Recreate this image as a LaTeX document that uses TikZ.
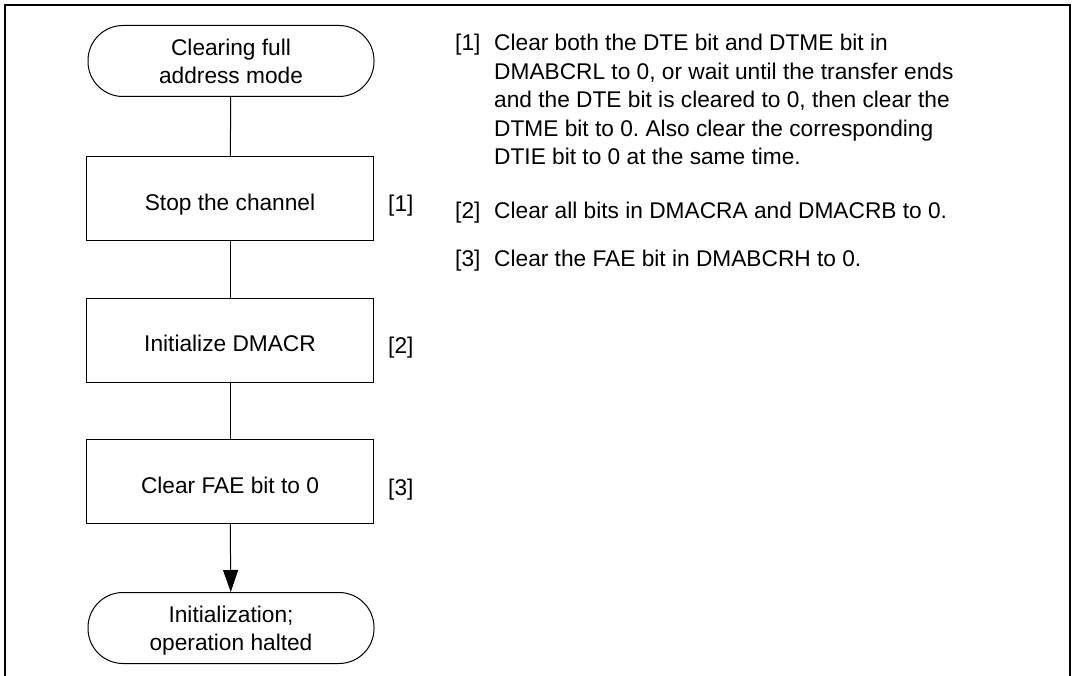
\documentclass[tikz,border=0pt]{standalone}
\usepackage{fontspec}
\setmainfont{Liberation Sans}
\usetikzlibrary{arrows.meta}
\frenchspacing
\begin{document}
\begin{tikzpicture}[x=1pt,y=-1pt,
  every node/.style={font=\fontsize{22.7}{28}\selectfont, inner sep=0pt},
  term/.style={draw, line width=1pt, rounded corners=35pt, minimum width=286pt, minimum height=71pt, align=center},
  stepbox/.style={draw, line width=1pt, minimum width=287pt, minimum height=84pt, text height=23pt, text depth=0pt},
  flow/.style={line width=1pt},
  lbl/.style={anchor=base west},
  txt/.style={anchor=base west}]
\useasboundingbox (0,0) rectangle (1073,676);
% frame
\draw[line width=2pt] (5,676) -- (5,5) -- (1069.5,5) -- (1069.5,676);
% flowchart
\node[term] (start) at (231,61) {Clearing full\\address mode};
\node[stepbox] (s1) at (230,199) {Stop the channel};
\node[stepbox] (s2) at (230,340) {Initialize DMACR};
\node[stepbox] (s3) at (230,481.5) {Clear FAE bit to 0};
\node[term, text depth=0pt] (stop) at (231,628) {Initialization;\\operation halted};
\draw[flow] (start) -- (s1);
\draw[flow] (s1) -- (s2);
\draw[flow] (s2) -- (s3);
\draw[flow,-{Triangle[length=22pt,width=15pt]}] (s3) -- (stop);
\node[lbl] (l1) at (388,212) {[1]};
\node[lbl] (l2) at (388,353) {[2]};
\node[lbl] (l3) at (388,495) {[3]};
% notes
\node[txt] (n1) at (455,51) {[1]};
\node[txt] (n1a) at (494,51) {Clear both the DTE bit and DTME bit in};
\node[txt] (n1b) at (494,79.5) {DMABCRL to 0, or wait until the transfer ends};
\node[txt] (n1c) at (494,108) {and the DTE bit is cleared to 0, then clear the};
\node[txt] (n1d) at (494,136.5) {DTME bit to 0. Also clear the corresponding};
\node[txt] (n1e) at (494,165) {DTIE bit to 0 at the same time.};
\node[txt] (n2) at (455,219) {[2]};
\node[txt] (n2a) at (494,219) {Clear all bits in DMACRA and DMACRB to 0.};
\node[txt] (n3) at (455,266) {[3]};
\node[txt] (n3a) at (494,266) {Clear the FAE bit in DMABCRH to 0.};
\end{tikzpicture}
\end{document}
